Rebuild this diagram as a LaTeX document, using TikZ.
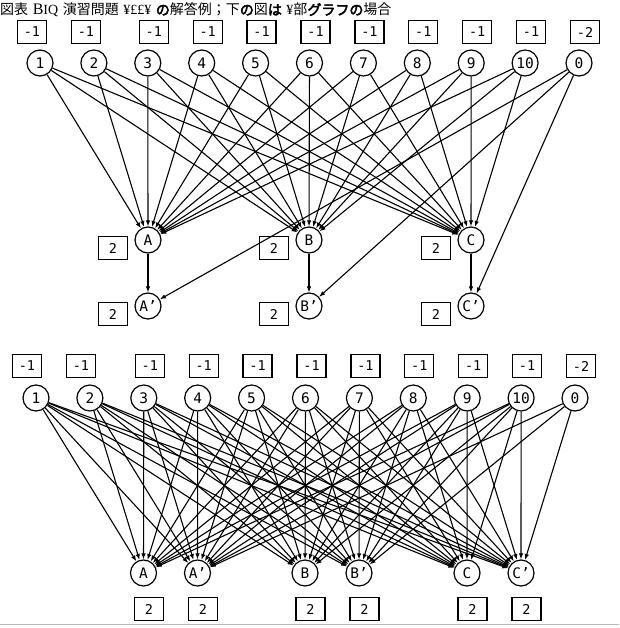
\documentclass[tikz,border=0pt]{standalone}
\usepackage{fontspec}
\setmonofont{DejaVu Sans Mono}
\newfontfamily\cjk{Noto Sans CJK JP}
\newfontfamily\cjkb[FakeBold=3]{Noto Sans CJK JP}
\newfontfamily\serifx{Liberation Serif}
\usetikzlibrary{arrows.meta}
\tikzset{
 vtx/.style={circle,draw,line width=1.2pt,minimum size=26pt,inner sep=0pt,font=\ttfamily\fontsize{14.5}{14.5}\selectfont},
 wbox/.style={draw,line width=1.3pt,minimum width=29pt,minimum height=23pt,inner sep=0pt,font=\ttfamily\fontsize{13.5}{13.5}\selectfont},
 edge/.style={line width=1.1pt,-{Latex[length=6pt,width=4.5pt]}},
}
\begin{document}
\begin{tikzpicture}[x=1pt,y=-1pt]
\useasboundingbox (0,0) rectangle (619,628);
% title
\node[anchor=base west,inner sep=0pt,font=\fontsize{14}{14}\selectfont] (title) at (0,15)
 {{\cjk 図表} {\serifx\fontsize{16}{16}\selectfont B}{\serifx IQ} {\cjk 演習問題} {\serifx ¥££¥} {\cjkb の}{\cjk 解答例；下}{\cjkb の}{\cjk 図}{\cjkb は} {\serifx ¥}{\cjk 部}{\cjkb グラフの}{\cjk 場合}};
% ---------- top graph ----------
\foreach \l [count=\k from 0] in {1,2,3,4,5,6,7,8,9,10,0}{
  \pgfmathsetmacro\xx{40+53.9*\k}
  \pgfmathsetmacro\dx{\k<2 ? -8 : 6}
  \node[vtx] (t\l) at (\xx,63) {\l};
  \node[wbox] (tw\l) at (\xx+\dx,32) {\ifnum\l=0 -2\else -1\fi};
}
\foreach \n/\lab/\xx/\yy in {A/A/148/240,B/B/309/240,C/C/471/240,Ap/A’/148/306,Bp/B’/309/306,Cp/C’/471/306}{
  \node[vtx] (\n) at (\xx,\yy) {\lab};
  \node[wbox] (w\n) at (\xx-35,\yy+8) {2};
}
\foreach \s in {1,...,10}{
  \foreach \d in {A,B,C}{
    \draw[edge] (t\s) -- (\d);
  }
}
\foreach \d in {A,B,C}{
  \draw[edge] (t0) -- (\d p);
  \draw[edge] (\d) -- (\d p);
}
% ---------- bottom graph ----------
\foreach \l [count=\k from 0] in {1,2,3,4,5,6,7,8,9,10,0}{
  \pgfmathsetmacro\xx{36+53.9*\k}
  \pgfmathsetmacro\dx{\k<2 ? -9 : 6}
  \node[vtx] (b\l) at (\xx,398) {\l};
  \node[wbox] (bw\l) at (\xx+\dx,366) {\ifnum\l=0 -2\else -1\fi};
}
\foreach \n/\lab/\xx in {A/A/143.5,Ap/A’/197.5,B/B/305,Bp/B’/359,C/C/467,Cp/C’/521}{
  \node[vtx] (b\n) at (\xx,573) {\lab};
  \node[wbox] (bw\n) at (\xx+5.5,609) {2};
}
\foreach \s in {1,...,10}{
  \foreach \d in {A,Ap,B,Bp,C,Cp}{
    \draw[edge] (b\s) -- (b\d);
  }
}
\foreach \d in {Ap,Bp,Cp}{
  \draw[edge] (b0) -- (b\d);
}
\draw[gray!55,line width=1.5pt] (0,624.5) -- (619,624.5);
\end{tikzpicture}
\end{document}
